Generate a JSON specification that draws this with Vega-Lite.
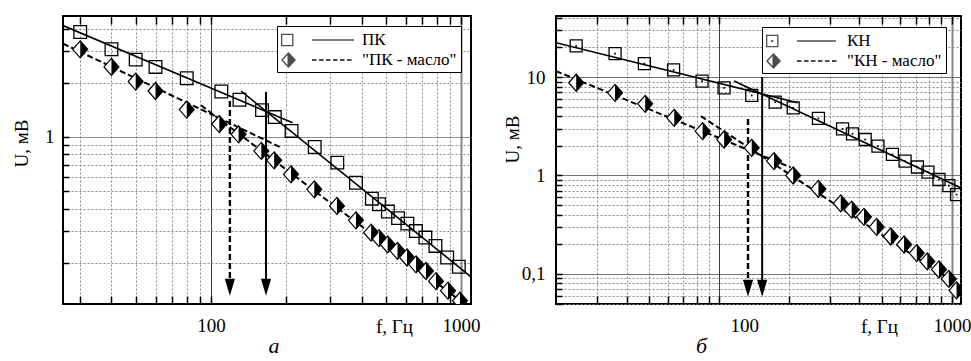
{
  "$schema": "https://vega.github.io/schema/vega-lite/v6.json",
  "background": "white",
  "autosize": {"type": "pad"},
  "padding": {"left": 11, "top": 7, "right": 5, "bottom": 5},
  "config": {
    "view": {"stroke": "black", "strokeWidth": 2},
    "axis": {"labelFont": "Liberation Serif", "titleFont": "Liberation Serif", "labelColor": "black", "titleColor": "black", "labelFontSize": 19, "titleFontSize": 19, "titleFontWeight": "normal", "labelFlush": false, "labelOverlap": false, "domain": false},
    "legend": {"labelFont": "Liberation Serif", "labelFontSize": 17, "labelColor": "black"}
  },
  "resolve": {"scale": {"shape": "independent"}, "legend": {"shape": "independent"}},
  "datasets": {
    "pkPts": [
      {"series": "ПК", "f": 30, "U": 3.83}, {"series": "ПК", "f": 40, "U": 3.07}, {"series": "ПК", "f": 50, "U": 2.69}, {"series": "ПК", "f": 60, "U": 2.45}, {"series": "ПК", "f": 80, "U": 2.12}, {"series": "ПК", "f": 110, "U": 1.79}, {"series": "ПК", "f": 130, "U": 1.61}, {"series": "ПК", "f": 160, "U": 1.41}, {"series": "ПК", "f": 180, "U": 1.29}, {"series": "ПК", "f": 210, "U": 1.08}, {"series": "ПК", "f": 260, "U": 0.88}, {"series": "ПК", "f": 320, "U": 0.72}, {"series": "ПК", "f": 380, "U": 0.557}, {"series": "ПК", "f": 440, "U": 0.454}, {"series": "ПК", "f": 470, "U": 0.423}, {"series": "ПК", "f": 510, "U": 0.385}, {"series": "ПК", "f": 560, "U": 0.354}, {"series": "ПК", "f": 610, "U": 0.33}, {"series": "ПК", "f": 660, "U": 0.3}, {"series": "ПК", "f": 720, "U": 0.276}, {"series": "ПК", "f": 790, "U": 0.248}, {"series": "ПК", "f": 880, "U": 0.214}, {"series": "ПК", "f": 980, "U": 0.19},
      {"series": "ПК - масло", "f": 30, "U": 3.07}, {"series": "ПК - масло", "f": 40, "U": 2.45}, {"series": "ПК - масло", "f": 50, "U": 2.03}, {"series": "ПК - масло", "f": 60, "U": 1.8}, {"series": "ПК - масло", "f": 80, "U": 1.42}, {"series": "ПК - масло", "f": 108, "U": 1.18}, {"series": "ПК - масло", "f": 129, "U": 1.035}, {"series": "ПК - масло", "f": 159, "U": 0.836}, {"series": "ПК - масло", "f": 179, "U": 0.742}, {"series": "ПК - масло", "f": 209, "U": 0.62}, {"series": "ПК - масло", "f": 259, "U": 0.512}, {"series": "ПК - масло", "f": 319, "U": 0.414}, {"series": "ПК - масло", "f": 380, "U": 0.344}, {"series": "ПК - масло", "f": 437, "U": 0.294}, {"series": "ПК - масло", "f": 470, "U": 0.274}, {"series": "ПК - масло", "f": 509, "U": 0.253}, {"series": "ПК - масло", "f": 557, "U": 0.233}, {"series": "ПК - масло", "f": 608, "U": 0.214}, {"series": "ПК - масло", "f": 661, "U": 0.196}, {"series": "ПК - масло", "f": 724, "U": 0.18}, {"series": "ПК - масло", "f": 794, "U": 0.158}, {"series": "ПК - масло", "f": 887, "U": 0.14}, {"series": "ПК - масло", "f": 990, "U": 0.123}
    ],
    "pkFit": [
      {"series": "ПК", "seg": "a", "f": 25.6, "U": 4.16}, {"series": "ПК", "seg": "a", "f": 212, "U": 1.2},
      {"series": "ПК", "seg": "b", "f": 132, "U": 1.8}, {"series": "ПК", "seg": "b", "f": 1096, "U": 0.167},
      {"series": "ПК - масло", "seg": "c", "f": 25.6, "U": 3.3}, {"series": "ПК - масло", "seg": "c", "f": 191, "U": 0.872},
      {"series": "ПК - масло", "seg": "d", "f": 91.2, "U": 1.5}, {"series": "ПК - масло", "seg": "d", "f": 1096, "U": 0.111}
    ],
    "pkArr": [
      {"series": "ПК", "f": 166, "U": 1.78, "U2": 0.146},
      {"series": "ПК - масло", "f": 119, "U": 1.585, "U2": 0.146}
    ],
    "pkHead": [
      {"series": "ПК", "f": 166, "U": 0.146},
      {"series": "ПК - масло", "f": 119, "U": 0.146}
    ],
    "knPts": [
      {"series": "КН", "f": 24.3, "U": 20.7}, {"series": "КН", "f": 35.7, "U": 17.3}, {"series": "КН", "f": 47.7, "U": 13.7}, {"series": "КН", "f": 63.7, "U": 11.8}, {"series": "КН", "f": 84.4, "U": 9.1}, {"series": "КН", "f": 105, "U": 7.78}, {"series": "КН", "f": 138, "U": 6.51}, {"series": "КН", "f": 174, "U": 5.57}, {"series": "КН", "f": 208, "U": 4.87}, {"series": "КН", "f": 267, "U": 3.8}, {"series": "КН", "f": 339, "U": 2.98}, {"series": "КН", "f": 374, "U": 2.65}, {"series": "КН", "f": 424, "U": 2.32}, {"series": "КН", "f": 481, "U": 1.99}, {"series": "КН", "f": 555, "U": 1.64}, {"series": "КН", "f": 629, "U": 1.4}, {"series": "КН", "f": 711, "U": 1.22}, {"series": "КН", "f": 789, "U": 1.08}, {"series": "КН", "f": 880, "U": 0.91}, {"series": "КН", "f": 970, "U": 0.79}, {"series": "КН", "f": 1047, "U": 0.64},
      {"series": "КН - масло", "f": 24.3, "U": 8.75}, {"series": "КН - масло", "f": 35.7, "U": 6.92}, {"series": "КН - масло", "f": 48.1, "U": 5.35}, {"series": "КН - масло", "f": 64.1, "U": 3.85}, {"series": "КН - масло", "f": 84.9, "U": 2.82}, {"series": "КН - масло", "f": 105, "U": 2.32}, {"series": "КН - масло", "f": 138, "U": 1.91}, {"series": "КН - масло", "f": 172, "U": 1.4}, {"series": "КН - масло", "f": 208, "U": 1.0}, {"series": "КН - масло", "f": 267, "U": 0.73}, {"series": "КН - масло", "f": 333, "U": 0.52}, {"series": "КН - масло", "f": 371, "U": 0.45}, {"series": "КН - масло", "f": 419, "U": 0.38}, {"series": "КН - масло", "f": 475, "U": 0.3}, {"series": "КН - масло", "f": 546, "U": 0.24}, {"series": "КН - масло", "f": 623, "U": 0.199}, {"series": "КН - масло", "f": 706, "U": 0.163}, {"series": "КН - масло", "f": 784, "U": 0.134}, {"series": "КН - масло", "f": 880, "U": 0.111}, {"series": "КН - масло", "f": 970, "U": 0.089}, {"series": "КН - масло", "f": 1047, "U": 0.068}
    ],
    "knFit": [
      {"series": "КН", "seg": "a", "f": 19.9, "U": 22.3}, {"series": "КН", "seg": "a", "f": 217, "U": 5.48},
      {"series": "КН", "seg": "b", "f": 116, "U": 9.1}, {"series": "КН", "seg": "b", "f": 1094, "U": 0.748},
      {"series": "КН - масло", "seg": "c", "f": 19.9, "U": 11.5}, {"series": "КН - масло", "seg": "c", "f": 203, "U": 1.21},
      {"series": "КН - масло", "seg": "d", "f": 83.4, "U": 4.01}, {"series": "КН - масло", "seg": "d", "f": 1094, "U": 0.074}
    ],
    "knArr": [
      {"series": "КН", "f": 153, "U": 10, "U2": 0.0714},
      {"series": "КН - масло", "f": 133, "U": 3.74, "U2": 0.0714}
    ],
    "knHead": [
      {"series": "КН", "f": 153, "U": 0.0714},
      {"series": "КН - масло", "f": 133, "U": 0.0714}
    ]
  },
  "hconcat": [
    {
      "width": 408, "height": 288,
      "title": {"text": "а", "orient": "bottom", "anchor": "middle", "font": "Liberation Serif", "fontStyle": "italic", "fontWeight": "normal", "fontSize": 22, "color": "black", "offset": 0, "dx": 7},
      "resolve": {"axis": {"x": "independent", "y": "independent"}},
      "layer": [
        {
          "encoding": {
            "x": {"field": "f", "type": "quantitative", "scale": {"type": "log", "domain": [25.6, 1096], "nice": false},
              "axis": {"values": [30, 40, 50, 60, 70, 80, 90, 100, 200, 300, 400, 500, 600, 700, 800, 900, 1000],
                "labelExpr": "datum.value == 100 ? '100' : datum.value == 1000 ? '1000' : ''",
                "grid": true,
                "gridDash": {"condition": {"test": "datum.value == 100 || datum.value == 1000", "value": [1, 0]}, "value": [2, 2]},
                "gridColor": {"condition": {"test": "datum.value == 100", "value": "black"}, "value": "#888"},
                "gridWidth": {"condition": {"test": "datum.value == 1000", "value": 2}, "value": 1},
                "ticks": false, "labelPadding": 12,
                "title": "f, Гц", "titleX": 331, "titleY": 22, "titleBaseline": "middle", "titleAlign": "center"}},
            "y": {"field": "U", "type": "quantitative", "scale": {"type": "log", "domain": [0.118, 4.7], "nice": false},
              "axis": {"values": [0.2, 0.3, 0.4, 0.5, 0.6, 0.7, 0.8, 0.9, 1, 2, 3, 4],
                "labelExpr": "datum.value == 1 ? '1' : ''",
                "grid": true,
                "gridDash": {"condition": {"test": "datum.value == 1", "value": [1, 0]}, "value": [2, 2]},
                "gridColor": {"condition": {"test": "datum.value == 1", "value": "#666"}, "value": "#888"},
                "ticks": false, "labelPadding": 9,
                "title": "U, мВ", "titleX": -42, "titleY": 127, "titleBaseline": "middle", "titleAlign": "center"}}
          },
          "layer": [
            {"data": {"name": "pkFit"}, "transform": [{"filter": "datum.series == 'ПК'"}], "mark": {"type": "line", "clip": true, "color": "black", "strokeWidth": 1.6},
              "encoding": {"detail": {"field": "seg"}}},
            {"data": {"name": "pkFit"}, "transform": [{"filter": "datum.series == 'ПК - масло'"}], "mark": {"type": "line", "clip": true, "color": "black", "strokeWidth": 2, "strokeDash": [6, 3]},
              "encoding": {"detail": {"field": "seg"}}},
            {"data": {"name": "pkArr"}, "transform": [{"filter": "datum.series == 'ПК'"}], "mark": {"type": "rule", "color": "black", "strokeWidth": 2},
              "encoding": {"y2": {"field": "U2"}}},
            {"data": {"name": "pkArr"}, "transform": [{"filter": "datum.series == 'ПК - масло'"}], "mark": {"type": "rule", "color": "black", "strokeWidth": 2.4, "strokeDash": [6, 3]},
              "encoding": {"y2": {"field": "U2"}}},
            {"data": {"name": "pkHead"}, "mark": {"type": "point", "shape": "M-0.6,-1L0.6,-1L0,1Z", "size": 289, "filled": true, "color": "black", "opacity": 1, "strokeWidth": 0}},
            {"data": {"name": "pkPts"}, "transform": [{"filter": "datum.series == 'ПК'"}],
              "mark": {"type": "point", "shape": "square", "size": 160, "filled": false, "color": "black", "strokeWidth": 1.3, "opacity": 1, "clip": true}},
            {"data": {"name": "pkPts"}, "transform": [{"filter": "datum.series == 'ПК - масло'"}],
              "mark": {"type": "point", "shape": "M0,-1L0.88,0L0,1L-0.88,0Z", "size": 289, "filled": true, "fill": "white", "stroke": "black", "strokeWidth": 1.2, "opacity": 1, "clip": true}},
            {"data": {"name": "pkPts"}, "transform": [{"filter": "datum.series == 'ПК - масло'"}],
              "mark": {"type": "point", "shape": "M0,-1L0.88,0L0,1Z", "size": 289, "filled": true, "color": "black", "strokeWidth": 0, "opacity": 1, "clip": true}},
            {"data": {"name": "pkPts"}, "transform": [{"filter": "false"}],
              "mark": {"type": "point", "filled": true, "color": "black", "strokeWidth": 0},
              "encoding": {"shape": {"field": "series", "type": "nominal",
                "scale": {"domain": ["ПК", "ПК - масло"], "range": [
                  "M-1,-0.625L0.25,-0.625L0.25,0.625L-1,0.625Z M-0.87,-0.495L-0.87,0.495L0.12,0.495L0.12,-0.495Z M2.1,-0.075L6.3,-0.075L6.3,0.075L2.1,0.075Z",
                  "M-0.25,-0.8L0.5,0L-0.25,0.8Z M-0.25,-0.8L-0.25,0.8L-1,0Z M-0.35,-0.5L-0.8,0L-0.35,0.5Z M2.1,-0.1L2.55,-0.1L2.55,0.1L2.1,0.1Z M2.8,-0.1L3.25,-0.1L3.25,0.1L2.8,0.1Z M3.5,-0.1L3.95,-0.1L3.95,0.1L3.5,0.1Z M4.2,-0.1L4.65,-0.1L4.65,0.1L4.2,0.1Z M4.9,-0.1L5.35,-0.1L5.35,0.1L4.9,0.1Z M5.6,-0.1L6.05,-0.1L6.05,0.1L5.6,0.1Z"]},
                "legend": {"orient": "none", "legendX": 214, "legendY": 10, "title": null, "strokeColor": "black", "fillColor": "white", "padding": 4,
                  "symbolSize": 400, "symbolFillColor": "black", "symbolStrokeWidth": 0, "labelOffset": 61, "rowPadding": 2,
                  "labelFont": "Liberation Serif", "labelFontSize": 17, "labelColor": "black",
                  "labelExpr": "datum.label == 'ПК' ? datum.label : '\"' + datum.label + '\"'"}}}}
          ]
        },
        {
          "data": {"name": "pkPts"},
          "mark": {"type": "point", "opacity": 0},
          "encoding": {
            "x": {"field": "f", "type": "quantitative", "scale": {"type": "log", "domain": [25.6, 1096], "nice": false},
              "axis": {"orient": "bottom", "offset": -8, "values": [30, 40, 50, 60, 70, 80, 90, 100, 200, 300, 400, 500, 600, 700, 800, 900, 1000], "labels": false, "grid": false, "ticks": true, "tickSize": 8, "tickColor": "black", "tickWidth": 1.5, "title": null}}
          }
        },
        {
          "data": {"name": "pkPts"},
          "mark": {"type": "point", "opacity": 0},
          "encoding": {
            "x": {"field": "f", "type": "quantitative", "scale": {"type": "log", "domain": [25.6, 1096], "nice": false},
              "axis": {"orient": "top", "offset": -8, "values": [30, 40, 50, 60, 70, 80, 90, 100, 200, 300, 400, 500, 600, 700, 800, 900, 1000], "labels": false, "grid": false, "ticks": true, "tickSize": 8, "tickColor": "black", "tickWidth": 1.5, "title": null}}
          }
        },
        {
          "data": {"name": "pkPts"},
          "mark": {"type": "point", "opacity": 0},
          "encoding": {
            "y": {"field": "U", "type": "quantitative", "scale": {"type": "log", "domain": [0.118, 4.7], "nice": false},
              "axis": {"orient": "left", "offset": -6, "values": [0.2, 0.3, 0.4, 0.5, 0.6, 0.7, 0.8, 0.9, 1, 2, 3, 4], "labels": false, "grid": false, "ticks": true, "tickSize": 6, "tickColor": "black", "tickWidth": 1.5, "title": null}}
          }
        }
      ]
    },
    {
      "width": 405, "height": 288,
      "title": {"text": "б", "orient": "bottom", "anchor": "middle", "font": "Liberation Serif", "fontStyle": "italic", "fontWeight": "normal", "fontSize": 22, "color": "black", "offset": 0, "dx": -57},
      "resolve": {"axis": {"x": "independent", "y": "independent"}},
      "layer": [
        {
          "encoding": {
            "x": {"field": "f", "type": "quantitative", "scale": {"type": "log", "domain": [19.9, 1094], "nice": false},
              "axis": {"values": [30, 40, 50, 60, 70, 80, 90, 100, 200, 300, 400, 500, 600, 700, 800, 900, 1000],
                "labelExpr": "datum.value == 100 ? '100' : datum.value == 1000 ? '1000' : ''",
                "labelOffset": {"condition": {"test": "datum.value == 100", "value": 25}, "value": 0},
                "grid": true,
                "gridDash": {"condition": {"test": "datum.value == 100 || datum.value == 1000", "value": [1, 0]}, "value": [2, 2]},
                "gridColor": {"condition": {"test": "datum.value == 100", "value": "black"}, "value": "#888"},
                "gridWidth": {"condition": {"test": "datum.value == 1000", "value": 2}, "value": 1},
                "ticks": false, "labelPadding": 12,
                "title": "f, Гц", "titleX": 323, "titleY": 22, "titleBaseline": "middle", "titleAlign": "center"}},
            "y": {"field": "U", "type": "quantitative", "scale": {"type": "log", "domain": [0.0495, 41.7], "nice": false},
              "axis": {"values": [0.05, 0.06, 0.07, 0.08, 0.09, 0.1, 0.2, 0.3, 0.4, 0.5, 0.6, 0.7, 0.8, 0.9, 1, 2, 3, 4, 5, 6, 7, 8, 9, 10, 20, 30, 40],
                "labelExpr": "datum.value == 10 ? '10' : datum.value == 1 ? '1' : datum.value == 0.1 ? '0,1' : ''",
                "grid": true,
                "gridDash": {"condition": {"test": "datum.value == 10 || datum.value == 1 || datum.value == 0.1", "value": [1, 0]}, "value": [2, 2]},
                "gridColor": {"condition": {"test": "datum.value == 10 || datum.value == 1 || datum.value == 0.1", "value": "#444"}, "value": "#888"},
                "ticks": false, "labelPadding": 11,
                "title": "U, мВ", "titleX": -44, "titleY": 123, "titleBaseline": "middle", "titleAlign": "center"}}
          },
          "layer": [
            {"data": {"name": "knFit"}, "transform": [{"filter": "datum.series == 'КН'"}], "mark": {"type": "line", "clip": true, "color": "black", "strokeWidth": 1.6},
              "encoding": {"detail": {"field": "seg"}}},
            {"data": {"name": "knFit"}, "transform": [{"filter": "datum.series == 'КН - масло'"}], "mark": {"type": "line", "clip": true, "color": "black", "strokeWidth": 2, "strokeDash": [6, 3]},
              "encoding": {"detail": {"field": "seg"}}},
            {"data": {"name": "knArr"}, "transform": [{"filter": "datum.series == 'КН'"}], "mark": {"type": "rule", "color": "black", "strokeWidth": 2},
              "encoding": {"y2": {"field": "U2"}}},
            {"data": {"name": "knArr"}, "transform": [{"filter": "datum.series == 'КН - масло'"}], "mark": {"type": "rule", "color": "black", "strokeWidth": 2.4, "strokeDash": [6, 3]},
              "encoding": {"y2": {"field": "U2"}}},
            {"data": {"name": "knHead"}, "mark": {"type": "point", "shape": "M-0.6,-1L0.6,-1L0,1Z", "size": 289, "filled": true, "color": "black", "opacity": 1, "strokeWidth": 0}},
            {"data": {"name": "knPts"}, "transform": [{"filter": "datum.series == 'КН'"}],
              "mark": {"type": "point", "shape": "square", "size": 144, "filled": false, "color": "black", "strokeWidth": 1.3, "opacity": 1, "clip": true}},
            {"data": {"name": "knPts"}, "transform": [{"filter": "datum.series == 'КН'"}],
              "mark": {"type": "point", "shape": "square", "size": 3, "filled": true, "color": "black", "strokeWidth": 0, "opacity": 1, "clip": true}},
            {"data": {"name": "knPts"}, "transform": [{"filter": "datum.series == 'КН - масло'"}],
              "mark": {"type": "point", "shape": "M0,-1L0.88,0L0,1L-0.88,0Z", "size": 289, "filled": true, "fill": "white", "stroke": "black", "strokeWidth": 1.2, "opacity": 1, "clip": true}},
            {"data": {"name": "knPts"}, "transform": [{"filter": "datum.series == 'КН - масло'"}],
              "mark": {"type": "point", "shape": "M0,-1L0.88,0L0,1Z", "size": 289, "filled": true, "color": "black", "strokeWidth": 0, "opacity": 1, "clip": true}},
            {"data": {"name": "knPts"}, "transform": [{"filter": "false"}],
              "mark": {"type": "point", "filled": true, "color": "black", "strokeWidth": 0},
              "encoding": {"shape": {"field": "series", "type": "nominal",
                "scale": {"domain": ["КН", "КН - масло"], "range": [
                  "M-1,-0.625L0.25,-0.625L0.25,0.625L-1,0.625Z M-0.87,-0.495L-0.87,0.495L0.12,0.495L0.12,-0.495Z M-0.475,-0.1L-0.275,-0.1L-0.275,0.1L-0.475,0.1Z M2.1,-0.075L6.0,-0.075L6.0,0.075L2.1,0.075Z",
                  "M-0.25,-0.8L0.5,0L-0.25,0.8Z M-0.25,-0.8L-0.25,0.8L-1,0Z M-0.35,-0.5L-0.8,0L-0.35,0.5Z M2.1,-0.1L2.55,-0.1L2.55,0.1L2.1,0.1Z M2.8,-0.1L3.25,-0.1L3.25,0.1L2.8,0.1Z M3.5,-0.1L3.95,-0.1L3.95,0.1L3.5,0.1Z M4.2,-0.1L4.65,-0.1L4.65,0.1L4.2,0.1Z M4.9,-0.1L5.35,-0.1L5.35,0.1L4.9,0.1Z M5.6,-0.1L6.05,-0.1L6.05,0.1L5.6,0.1Z"]},
                "legend": {"orient": "none", "legendX": 206, "legendY": 11, "title": null, "strokeColor": "black", "fillColor": "white", "padding": 4,
                  "symbolSize": 400, "symbolFillColor": "black", "symbolStrokeWidth": 0, "labelOffset": 61, "rowPadding": 2,
                  "labelFont": "Liberation Serif", "labelFontSize": 17, "labelColor": "black",
                  "labelExpr": "datum.label == 'КН' ? datum.label : '\"' + datum.label + '\"'"}}}}
          ]
        },
        {
          "data": {"name": "knPts"},
          "mark": {"type": "point", "opacity": 0},
          "encoding": {
            "x": {"field": "f", "type": "quantitative", "scale": {"type": "log", "domain": [19.9, 1094], "nice": false},
              "axis": {"orient": "bottom", "offset": -8, "values": [30, 40, 50, 60, 70, 80, 90, 100, 200, 300, 400, 500, 600, 700, 800, 900, 1000], "labels": false, "grid": false, "ticks": true, "tickSize": 8, "tickColor": "black", "tickWidth": 1.5, "title": null}}
          }
        },
        {
          "data": {"name": "knPts"},
          "mark": {"type": "point", "opacity": 0},
          "encoding": {
            "x": {"field": "f", "type": "quantitative", "scale": {"type": "log", "domain": [19.9, 1094], "nice": false},
              "axis": {"orient": "top", "offset": -8, "values": [30, 40, 50, 60, 70, 80, 90, 100, 200, 300, 400, 500, 600, 700, 800, 900, 1000], "labels": false, "grid": false, "ticks": true, "tickSize": 8, "tickColor": "black", "tickWidth": 1.5, "title": null}}
          }
        },
        {
          "data": {"name": "knPts"},
          "mark": {"type": "point", "opacity": 0},
          "encoding": {
            "y": {"field": "U", "type": "quantitative", "scale": {"type": "log", "domain": [0.0495, 41.7], "nice": false},
              "axis": {"orient": "left", "offset": -6, "values": [0.05, 0.06, 0.07, 0.08, 0.09, 0.1, 0.2, 0.3, 0.4, 0.5, 0.6, 0.7, 0.8, 0.9, 1, 2, 3, 4, 5, 6, 7, 8, 9, 10, 20, 30, 40], "labels": false, "grid": false, "ticks": true, "tickSize": 6, "tickColor": "black", "tickWidth": 1.5, "title": null}}
          }
        }
      ]
    }
  ],
  "spacing": 85,
  "bounds": "flush"
}
